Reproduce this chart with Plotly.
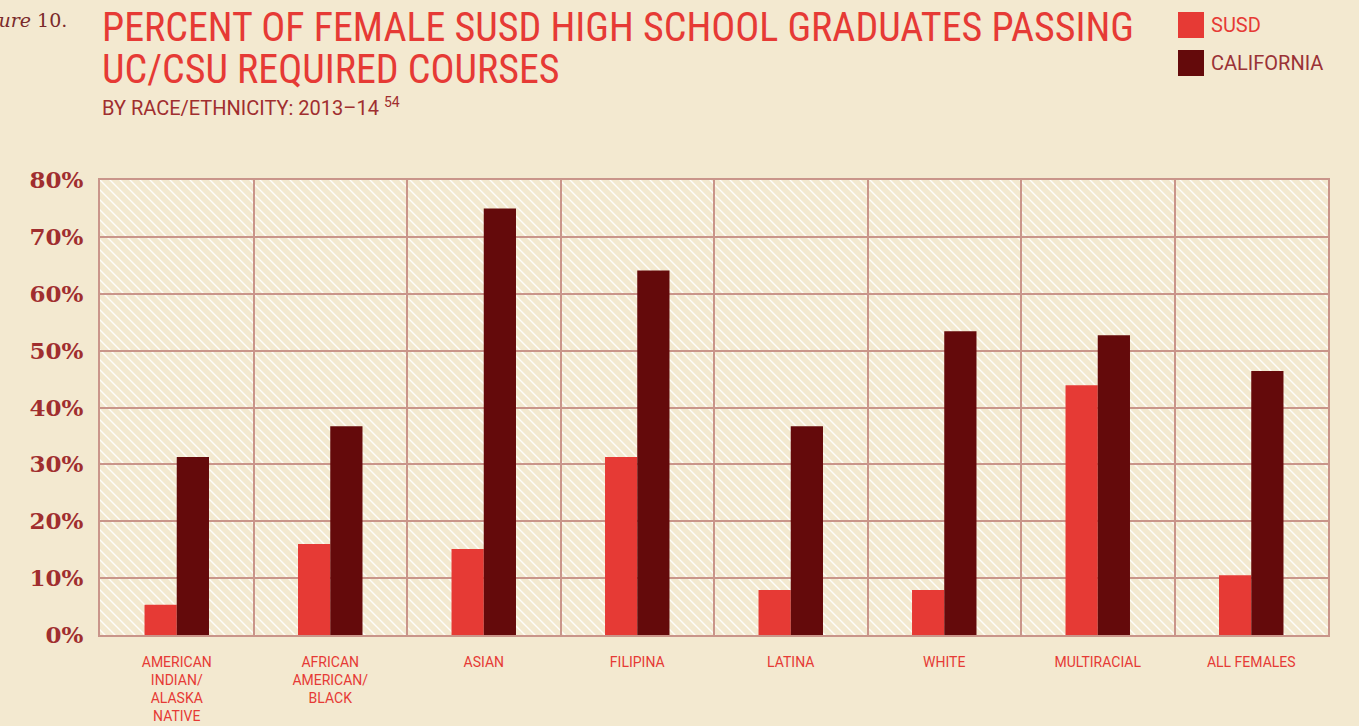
import base64
import plotly.graph_objects as go

categories = ["AMERICAN<br>INDIAN/<br>ALASKA<br>NATIVE", "AFRICAN<br>AMERICAN/<br>BLACK", "ASIAN", "FILIPINA",
              "LATINA", "WHITE", "MULTIRACIAL", "ALL FEMALES"]
susd = [5.3, 16.0, 15.1, 31.3, 7.9, 7.9, 43.9, 10.5]
california = [31.3, 36.7, 75.0, 64.1, 36.7, 53.4, 52.7, 46.4]
y_ticks = [0, 10, 20, 30, 40, 50, 60, 70, 80]
y_tick_text = [f"{v}%" for v in y_ticks]

BG = "#F3E9D0"
RED = "#E63A35"
DARK = "#640A0B"
GRID = "#C9958A"
LABEL = "#A02E2F"
COND = "Liberation Sans Narrow, Roboto Condensed, Roboto, sans-serif"
SANS = "Roboto, sans-serif"
SERIF = "DejaVu Serif, Liberation Serif, serif"

W, H = 1359, 726
L, R, T, B = 100, 31, 180, 91
PW, PH = W - L - R, H - T - B

def px(x):
    return (x - L) / PW

def py(y):
    return (H - B - y) / PH

# diagonal hatch texture for the plot panel (drawn below the gridlines)
S = 10
svg = (
    f'<svg xmlns="http://www.w3.org/2000/svg" width="{PW}" height="{PH}" viewBox="0 0 {PW} {PH}">'
    f'<defs><pattern id="h" patternUnits="userSpaceOnUse" width="{S}" height="{S}">'
    f'<path d="M-2,-2 L{S+2},{S+2} M-2,{S-2} L2,{S+2} M{S-2},-2 L{S+2},2" '
    f'stroke="#FFFFFF" stroke-opacity="0.9" stroke-width="1.4"/></pattern></defs>'
    f'<rect width="{PW}" height="{PH}" fill="url(#h)"/></svg>'
)
hatch_src = "data:image/svg+xml;base64," + base64.b64encode(svg.encode()).decode()

fig = go.Figure()
fig.add_trace(go.Bar(x=categories, y=susd, name="SUSD", width=0.21, offset=-0.21,
                     marker=dict(color=RED, line=dict(width=0)), showlegend=False))
fig.add_trace(go.Bar(x=categories, y=california, name="CALIFORNIA", width=0.21, offset=0,
                     marker=dict(color=DARK, line=dict(width=0)), showlegend=False))

fig.add_layout_image(dict(source=hatch_src, xref="paper", yref="paper", x=0, y=1, sizex=1, sizey=1,
                          xanchor="left", yanchor="top", sizing="stretch", layer="below"))

fig.update_layout(
    width=W, height=H, barmode="overlay",
    paper_bgcolor=BG, plot_bgcolor=BG,
    margin=dict(l=L, r=R, t=T, b=B, pad=0, autoexpand=False),
    showlegend=False,
    xaxis=dict(type="category", tickson="boundaries", showgrid=True, gridcolor=GRID, gridwidth=2,
               showline=True, linecolor=GRID, linewidth=2, mirror=True, ticks="", ticklen=0,
               automargin=False,
               tickfont=dict(family=SANS, size=14, color=RED), ticklabelstandoff=13,
               range=[-0.5, 7.5]),
    yaxis=dict(range=[0, 80], tickvals=y_ticks, ticktext=y_tick_text, showgrid=True,
               gridcolor=GRID, gridwidth=2, showline=True, linecolor=GRID, linewidth=2,
               mirror=True, zeroline=False, ticks="", ticklabelstandoff=10, automargin=False,
               tickfont=dict(family=SERIF, size=23, color=LABEL, weight="bold")),
)

ann = []
ann.append(dict(text="PERCENT OF FEMALE SUSD HIGH SCHOOL GRADUATES PASSING", x=px(100), y=py(27),
                xanchor="left", yanchor="middle", font=dict(family=COND, size=40, color=RED)))
ann.append(dict(text="UC/CSU REQUIRED COURSES", x=px(100), y=py(70),
                xanchor="left", yanchor="middle", font=dict(family=COND, size=40, color=RED)))
ann.append(dict(text="BY RACE/ETHNICITY: 2013\u201314 <sup>54</sup>", x=px(100), y=py(107),
                xanchor="left", yanchor="middle", font=dict(family=SANS, size=20, color=LABEL)))
ann.append(dict(text="<i>Figure</i> 10.", x=px(69), y=py(20),
                xanchor="right", yanchor="middle", font=dict(family=SERIF, size=19, color="#7A2A2B")))
ann.append(dict(text="SUSD", x=px(1209), y=py(25), xanchor="left", yanchor="middle",
                font=dict(family=SANS, size=20, color=RED)))
ann.append(dict(text="CALIFORNIA", x=px(1209), y=py(63), xanchor="left", yanchor="middle",
                font=dict(family=SANS, size=20, color="#9A3236")))
for a in ann:
    a.update(xref="paper", yref="paper", showarrow=False)
fig.update_layout(annotations=ann)

fig.add_shape(type="rect", xref="paper", yref="paper", x0=px(1178), x1=px(1204), y0=py(12), y1=py(38),
              fillcolor=RED, line=dict(width=0))
fig.add_shape(type="rect", xref="paper", yref="paper", x0=px(1178), x1=px(1204), y0=py(50), y1=py(76),
              fillcolor=DARK, line=dict(width=0))

fig.write_html("out.html", config={"displayModeBar": False},
               post_script="document.body.style.margin='0';document.body.style.padding='0';")
